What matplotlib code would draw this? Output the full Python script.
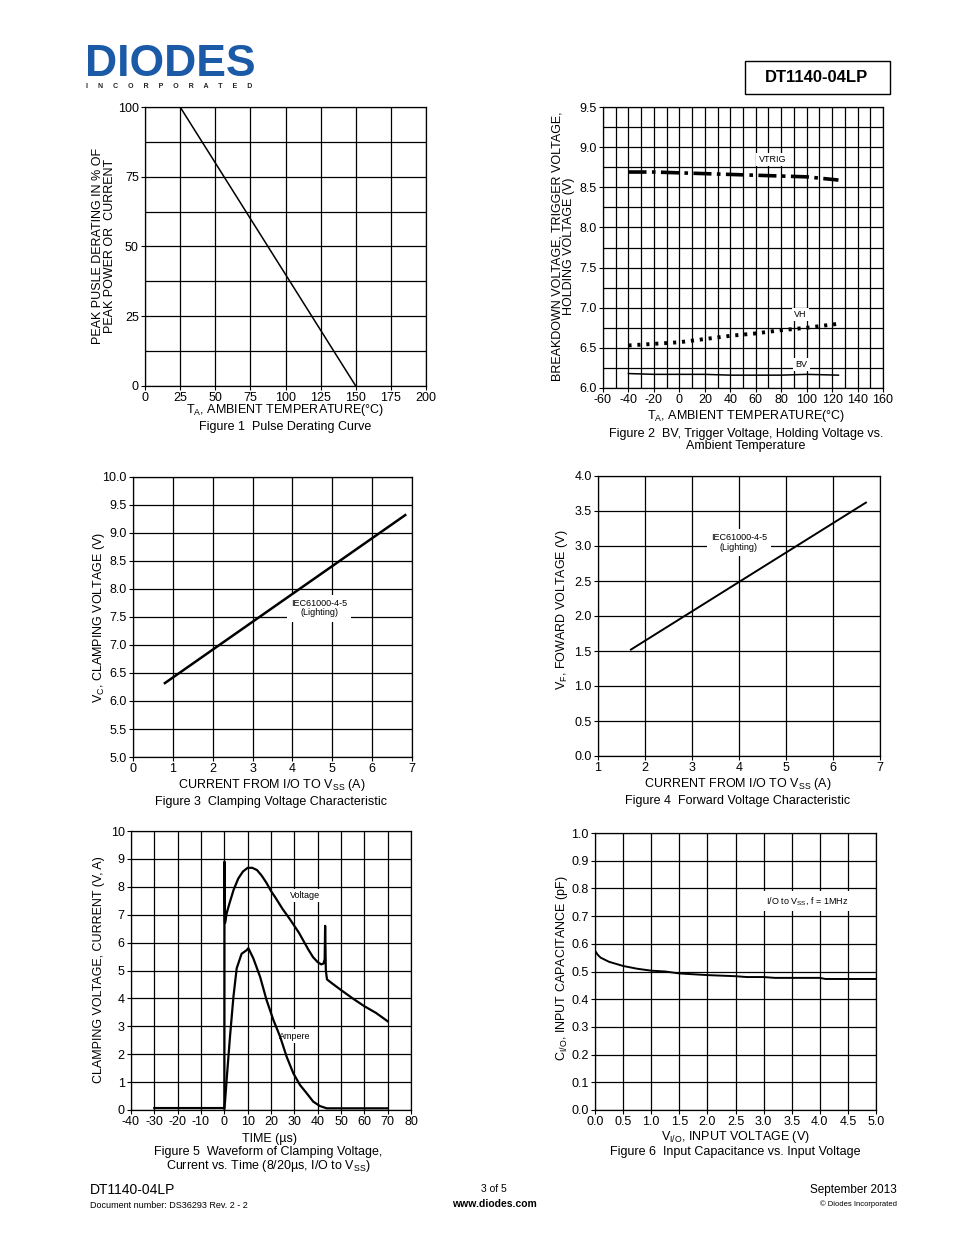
import matplotlib
matplotlib.use('Agg')
import matplotlib.pyplot as plt
from matplotlib.ticker import MultipleLocator, FormatStrFormatter
from matplotlib.patches import Rectangle

plt.rcParams['font.family'] = ['Liberation Sans', 'DejaVu Sans']
plt.rcParams['mathtext.fontset'] = 'custom'
plt.rcParams['mathtext.rm'] = 'Liberation Sans'
plt.rcParams['mathtext.it'] = 'Liberation Sans:italic'
plt.rcParams['mathtext.bf'] = 'Liberation Sans:bold'

# ---------------- data ----------------
# Figure 1: pulse derating
f1_temp = [0, 25, 150]
f1_pct = [100, 100, 0]

# Figure 2: BV / VTRIG / VH vs temperature
f2_temp = [-40, -20, 0, 20, 40, 60, 80, 100, 125]
f2_vtrig = [8.69, 8.69, 8.68, 8.67, 8.66, 8.65, 8.64, 8.63, 8.59]
f2_vh = [6.53, 6.55, 6.57, 6.61, 6.65, 6.68, 6.72, 6.75, 6.80]
f2_bv = [6.18, 6.17, 6.17, 6.17, 6.16, 6.16, 6.16, 6.17, 6.16]

# Figure 3: clamping voltage vs current
f3_i = [0.8, 6.83]
f3_v = [6.32, 9.32]

# Figure 4: forward voltage vs current
f4_i = [1.7, 6.7]
f4_v = [1.52, 3.62]

# Figure 5: waveform
f5_t_v = [0.0, 0.05, 0.3, 1, 2, 4, 6, 8, 10, 12, 14, 16, 18, 20, 22, 25, 28, 30,
          32, 34, 36, 38, 40, 41.5, 42.5, 43.0, 43.2, 43.5, 44, 46, 50, 55, 60, 65, 70]
f5_volt = [0.05, 8.9, 6.7, 7.05, 7.35, 7.9, 8.3, 8.55, 8.68, 8.68, 8.6, 8.4, 8.15,
           7.85, 7.6, 7.2, 6.85, 6.6, 6.35, 6.05, 5.75, 5.48, 5.3, 5.22, 5.25, 5.4,
           6.6, 5.0, 4.68, 4.55, 4.3, 4.0, 3.72, 3.48, 3.18]
f5_t_a = [-30, -20, -10, 0, 0.3, 1, 2.4, 3.9, 5.3, 7.4, 9.6, 10.3, 12.4, 15.3, 18.1,
          21, 23.9, 26.7, 29.6, 32.4, 35.3, 38.1, 41, 43.9, 50, 60, 70]
f5_amp = [0.07, 0.07, 0.07, 0.07, 0.3, 1.1, 2.6, 4.06, 5.08, 5.6, 5.73, 5.8, 5.44,
          4.78, 3.94, 3.23, 2.63, 1.91, 1.31, 0.9, 0.6, 0.3, 0.14, 0.06, 0.06, 0.06, 0.06]

# Figure 6: capacitance vs voltage
f6_v = [0.0, 0.05, 0.1, 0.25, 0.5, 0.75, 1.0, 1.25, 1.5, 2.0, 2.5, 2.7, 3.0, 3.2, 4.0, 4.1, 5.0]
f6_c = [0.575, 0.56, 0.55, 0.535, 0.52, 0.51, 0.503, 0.5, 0.493, 0.487, 0.483, 0.48,
        0.48, 0.477, 0.477, 0.473, 0.473]

# ---------------- figure ----------------
W, H = 954, 1235
fig = plt.figure(figsize=(W / 100, H / 100), dpi=100)


def add_ax(x0, y0, x1, y1):
    return fig.add_axes([x0 / W, 1 - y1 / H, (x1 - x0) / W, (y1 - y0) / H])


def ftext(x, y, s, **kw):
    kw.setdefault('ha', 'center')
    kw.setdefault('va', 'center')
    return fig.text(x / W, 1 - y / H, s, **kw)


def style(ax, xlim, ylim, xmaj, xmin, ymaj, ymin, xfmt, yfmt):
    ax.set_xlim(xlim)
    ax.set_ylim(ylim)
    ax.xaxis.set_major_locator(MultipleLocator(xmaj))
    ax.xaxis.set_minor_locator(MultipleLocator(xmin))
    ax.yaxis.set_major_locator(MultipleLocator(ymaj))
    ax.yaxis.set_minor_locator(MultipleLocator(ymin))
    ax.xaxis.set_major_formatter(FormatStrFormatter(xfmt))
    ax.yaxis.set_major_formatter(FormatStrFormatter(yfmt))
    ax.grid(which='both', color='black', lw=0.9)
    ax.set_axisbelow(True)
    ax.tick_params(which='major', direction='out', length=3, width=0.8,
                   labelsize=9, pad=1.5, colors='black')
    ax.tick_params(which='minor', length=0)
    for sp in ax.spines.values():
        sp.set_linewidth(0.9)


lbl_box = dict(facecolor='white', edgecolor='none', pad=1.5)
LZ = 5  # data lines above label boxes

# Figure 1
ax1 = add_ax(145, 107, 426, 386)
style(ax1, (0, 200), (0, 100), 25, 25, 25, 12.5, '%d', '%d')
ax1.plot(f1_temp, f1_pct, color='black', lw=1.1, zorder=LZ)
ftext(285, 410, r'T$_\mathrm{A}$, AMBIENT TEMPERATURE(°C)', fontsize=9)
ftext(285, 427, 'Figure 1  Pulse Derating Curve', fontsize=9)
ftext(104, 246, 'PEAK PUSLE DERATING IN % OF\nPEAK POWER OR  CURRENT', fontsize=9,
      rotation=90, linespacing=1.0)

# Figure 2
ax2 = add_ax(603, 107, 883, 388)
style(ax2, (-60, 160), (6.0, 9.5), 20, 10, 0.5, 0.25, '%d', '%.1f')
ax2.plot(f2_temp, f2_vtrig, color='black', lw=2.6, ls=(0, (5, 1.5, 1, 1.5)), zorder=LZ)
ax2.plot(f2_temp, f2_vh, color='black', lw=2.8, ls=(0, (0.8, 1.5)), zorder=LZ)
ax2.plot(f2_temp, f2_bv, color='black', lw=1.1, zorder=LZ)
ax2.text(73, 8.85, 'VTRIG', fontsize=6.5, ha='center', va='center', bbox=lbl_box)
ax2.text(95, 6.92, 'VH', fontsize=6.5, ha='center', va='center', bbox=lbl_box)
ax2.text(96, 6.29, 'BV', fontsize=6.5, ha='center', va='center', bbox=lbl_box)
ftext(746, 416, r'T$_\mathrm{A}$, AMBIENT TEMPERATURE(°C)', fontsize=9)
ftext(746, 440, 'Figure 2  BV, Trigger Voltage, Holding Voltage vs.\nAmbient Temperature',
      fontsize=9, linespacing=1.0)
ftext(563, 246, 'BREAKDOWN VOLTAGE, TRIGGER VOLTAGE,\nHOLDING VOLTAGE (V)', fontsize=9,
      rotation=90, linespacing=1.0)

# Figure 3
ax3 = add_ax(133, 477, 412, 757)
style(ax3, (0, 7), (5.0, 10.0), 1, 1, 0.5, 0.5, '%d', '%.1f')
ax3.plot(f3_i, f3_v, color='black', lw=1.8, zorder=LZ)
ax3.text(4.67, 7.66, 'IEC61000-4-5\n(Lighting)', fontsize=6.5, ha='center', va='center',
         bbox=dict(facecolor='white', edgecolor='none', pad=3), linespacing=1.1)
ftext(272, 785, r'CURRENT FROM I/O TO V$_\mathrm{SS}$ (A)', fontsize=9)
ftext(271, 802, 'Figure 3  Clamping Voltage Characteristic', fontsize=9)
ftext(99, 617, r'V$_\mathrm{C}$, CLAMPING VOLTAGE (V)', fontsize=9, rotation=90)

# Figure 4
ax4 = add_ax(598, 476, 880, 756)
style(ax4, (1, 7), (0.0, 4.0), 1, 1, 0.5, 0.5, '%d', '%.1f')
ax4.plot(f4_i, f4_v, color='black', lw=1.4, zorder=LZ)
ax4.text(4.0, 3.05, 'IEC61000-4-5\n(Lighting)', fontsize=6.5, ha='center', va='center',
         bbox=dict(facecolor='white', edgecolor='none', pad=3), linespacing=1.1)
ftext(738, 784, r'CURRENT FROM I/O TO V$_\mathrm{SS}$ (A)', fontsize=9)
ftext(738, 801, 'Figure 4  Forward Voltage Characteristic', fontsize=9)
ftext(562, 610, r'V$_\mathrm{F}$, FOWARD VOLTAGE (V)', fontsize=9, rotation=90)

# Figure 5
ax5 = add_ax(131, 831, 411, 1110)
style(ax5, (-40, 80), (0, 10), 10, 10, 1, 1, '%d', '%d')
ax5.plot(f5_t_v, f5_volt, color='black', lw=1.6, zorder=LZ)
ax5.plot(f5_t_a, f5_amp, color='black', lw=1.6, zorder=LZ)
ax5.text(34.6, 7.7, 'Voltage', fontsize=6.5, ha='center', va='center', bbox=lbl_box)
ax5.text(30.0, 2.65, 'Ampere', fontsize=6.5, ha='center', va='center', bbox=lbl_box)
ftext(270, 1139, 'TIME (µs)', fontsize=9)
ftext(268, 1160, 'Figure 5  Waveform of Clamping Voltage,\n'
      r'Current vs. Time (8/20µs, I/O to V$_\mathrm{SS}$)', fontsize=9, linespacing=1.0)
ftext(99, 970, 'CLAMPING VOLTAGE, CURRENT (V, A)', fontsize=9, rotation=90)

# Figure 6
ax6 = add_ax(595, 833, 876, 1110)
style(ax6, (0, 5), (0, 1), 0.5, 0.5, 0.1, 0.1, '%.1f', '%.1f')
ax6.plot(f6_v, f6_c, color='black', lw=1.4, zorder=LZ)
ax6.text(3.77, 0.755, r'I/O to V$_\mathrm{SS}$, f = 1MHz', fontsize=6.5, ha='center',
         va='center', bbox=dict(facecolor='white', edgecolor='none', pad=3))
ftext(735, 1137, r'V$_\mathrm{I/O}$, INPUT VOLTAGE (V)', fontsize=9)
ftext(735, 1152, 'Figure 6  Input Capacitance vs. Input Voltage', fontsize=9)
ftext(562, 968, r'C$_\mathrm{I/O}$, INPUT CAPACITANCE (pF)', fontsize=9, rotation=90)

# Header
ftext(170, 64, 'DIODES', fontsize=32, fontweight='heavy', color='#1b5aa6')
ftext(169, 86, 'I     N     C     O     R     P     O     R     A     T     E     D',
      fontsize=5, fontweight='bold', color='#222222')
fig.patches.append(Rectangle((745 / W, 1 - 94 / H), 145 / W, 33 / H, fill=False,
                             edgecolor='black', lw=1, transform=fig.transFigure))
ftext(817, 78, 'DT1140-04LP', fontsize=12, fontweight='bold')

# Footer
ftext(90, 1190, 'DT1140-04LP', fontsize=10, ha='left')
ftext(90, 1205, 'Document number: DS36293 Rev. 2 - 2', fontsize=6.5, ha='left')
ftext(494, 1189, '3 of 5', fontsize=7.5)
ftext(494, 1204, 'www.diodes.com', fontsize=7.5, fontweight='bold')
ftext(897, 1190, 'September 2013', fontsize=8.5, ha='right')
ftext(897, 1204, '© Diodes Incorporated', fontsize=5.5, ha='right')

fig.savefig('out.png', dpi=100)
